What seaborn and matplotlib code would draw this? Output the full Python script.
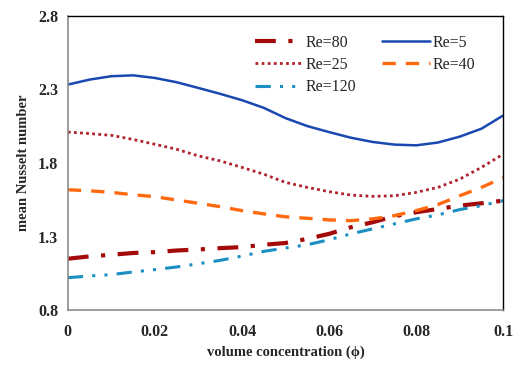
import numpy as np
import pandas as pd
import matplotlib
matplotlib.use("Agg")
import matplotlib.pyplot as plt
import seaborn as sns

# volume concentration (phi)
phi = [0.0, 0.005, 0.01, 0.015, 0.02, 0.025, 0.03, 0.035, 0.04, 0.045, 0.05,
       0.055, 0.06, 0.065, 0.07, 0.075, 0.08, 0.085, 0.09, 0.095, 0.1]

# mean Nusselt number per Reynolds number
nu_re5 = [2.333, 2.367, 2.39, 2.396, 2.378, 2.349, 2.31, 2.27, 2.227, 2.175, 2.105,
          2.051, 2.01, 1.972, 1.943, 1.925, 1.92, 1.939, 1.979, 2.033, 2.123]
nu_re25 = [2.01, 2.0, 1.988, 1.96, 1.927, 1.893, 1.848, 1.814, 1.77, 1.724, 1.668,
           1.634, 1.605, 1.582, 1.573, 1.577, 1.6, 1.634, 1.69, 1.77, 1.86]
nu_re40 = [1.618, 1.611, 1.6, 1.584, 1.571, 1.548, 1.526, 1.503, 1.476, 1.454, 1.434,
           1.424, 1.413, 1.408, 1.42, 1.442, 1.476, 1.517, 1.577, 1.634, 1.70]
nu_re80 = [1.149, 1.165, 1.176, 1.188, 1.194, 1.205, 1.212, 1.221, 1.228, 1.244, 1.256,
           1.284, 1.318, 1.363, 1.397, 1.438, 1.465, 1.487, 1.51, 1.526, 1.544]
nu_re120 = [1.02, 1.032, 1.041, 1.059, 1.075, 1.093, 1.115, 1.138, 1.167, 1.199, 1.222,
            1.244, 1.278, 1.318, 1.352, 1.386, 1.42, 1.447, 1.483, 1.51, 1.544]

x_ticks = [0, 0.02, 0.04, 0.06, 0.08, 0.1]
x_tick_labels = ["0", "0.02", "0.04", "0.06", "0.08", "0.1"]
y_ticks = [0.8, 1.3, 1.8, 2.3, 2.8]

# legend fills column by column, so this order gives the reference's rows
series = [
    ("Re=80", nu_re80, "#a50a0a", (0, (5, 3, 1, 3)), 3.0),
    ("Re=25", nu_re25, "#b0202a", (0, (1, 1.2)), 2.0),
    ("Re=120", nu_re120, "#1b8fc2", (0, (5, 3, 1, 3, 1, 3)), 2.2),
    ("Re=5", nu_re5, "#1848b0", "-", 1.8),
    ("Re=40", nu_re40, "#ff6a10", (0, (4, 3)), 2.4),
]

sns.set_style("white")
plt.rcParams["font.family"] = ["Liberation Serif", "DejaVu Serif"]

fig = plt.figure(figsize=(5.14, 3.70), dpi=100)
ax = fig.add_axes([0.132, 0.162, 0.847, 0.795])

for label, values, color, ls, lw in series:
    df = pd.DataFrame({"phi": phi, "nu": values})
    sns.lineplot(data=df, x="phi", y="nu", ax=ax, color=color,
                 linestyle=ls, linewidth=lw, label=label)

ax.set_xlim(0, 0.1)
ax.set_ylim(0.8, 2.8)
ax.set_xticks(x_ticks)
ax.set_xticklabels(x_tick_labels)
ax.set_yticks(y_ticks)
ax.tick_params(axis="both", direction="out", length=4, color="#888888",
               labelsize=11.5, pad=6)
ax.tick_params(axis="y", pad=3)
for lab in ax.get_xticklabels() + ax.get_yticklabels():
    lab.set_fontweight("bold")

for side in ["left", "bottom"]:
    ax.spines[side].set_color("#8c8c8c")
    ax.spines[side].set_linewidth(1.2)
for side in ["top", "right"]:
    ax.spines[side].set_color("black")
    ax.spines[side].set_linewidth(1.0)

ax.set_xlabel("volume concentration (\u03d5)", fontsize=10.5,
              fontweight="bold", labelpad=4)
ax.set_ylabel("mean Nusselt number", fontsize=10.5, fontweight="bold",
              labelpad=6)

ax.legend(ncol=2, frameon=False, loc="upper right",
          bbox_to_anchor=(0.968, 0.985), fontsize=11.5, handlelength=3.0,
          columnspacing=1.6, labelspacing=0.4, handletextpad=0.15)

fig.savefig("out.png", dpi=100)
